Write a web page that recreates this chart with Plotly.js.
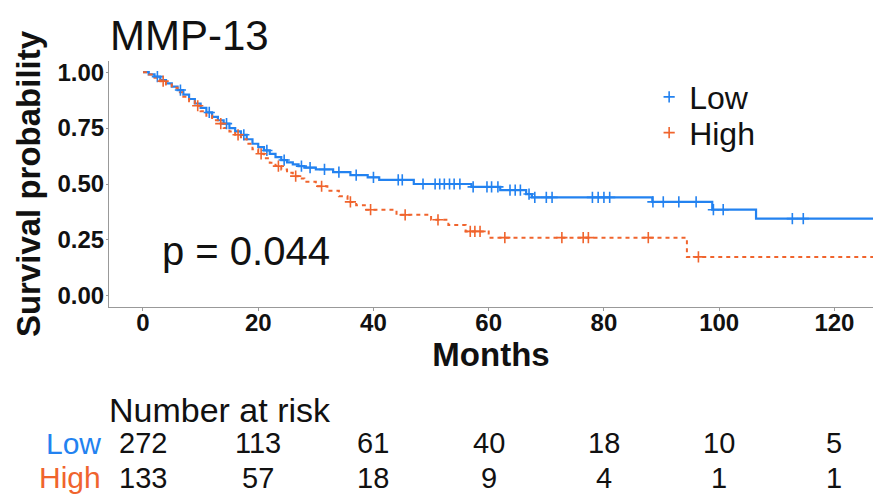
<!DOCTYPE html>
<html>
<head>
<meta charset="utf-8">
<script src="https://cdn.plot.ly/plotly-3.0.1.min.js"></script>
<style>html,body{margin:0;padding:0;background:#fff;}#chart{width:873px;height:498px;}</style>
</head>
<body>
<div id="chart"></div>
<script>
// ---- Data ----
const groups = ["Low", "High"];

const lowTimes = [0, 1, 2, 3, 4, 5, 6, 7, 8, 9, 10, 11, 12, 13, 14, 15, 16, 17, 18, 19, 20, 21, 22, 23, 24, 25, 26, 27, 28, 30, 33, 36, 39, 41, 47, 57, 62, 66.5, 67.5, 88.4, 98.8, 106.4, 127];
const lowSurv  = [1.0, 0.99, 0.98, 0.965, 0.95, 0.935, 0.92, 0.90, 0.88, 0.86, 0.84, 0.82, 0.80, 0.785, 0.77, 0.75, 0.735, 0.72, 0.70, 0.68, 0.665, 0.65, 0.635, 0.62, 0.607, 0.597, 0.588, 0.58, 0.573, 0.565, 0.553, 0.54, 0.53, 0.518, 0.50, 0.487, 0.473, 0.455, 0.44, 0.42, 0.385, 0.345, 0.345];

const highTimes = [0, 1, 2, 3, 4, 5, 6, 7, 8, 9, 10, 11, 12, 13, 14, 15, 16, 17, 18, 19, 20, 21, 22, 23, 24, 25, 26, 27, 28, 30, 32, 34, 35.5, 37, 38.5, 44, 50, 53, 56, 60, 94.4, 127];
const highSurv  = [1.0, 0.99, 0.975, 0.96, 0.945, 0.93, 0.91, 0.89, 0.87, 0.85, 0.825, 0.805, 0.785, 0.77, 0.75, 0.735, 0.72, 0.70, 0.68, 0.655, 0.635, 0.615, 0.595, 0.58, 0.565, 0.55, 0.535, 0.525, 0.51, 0.49, 0.47, 0.445, 0.42, 0.405, 0.385, 0.362, 0.34, 0.317, 0.288, 0.26, 0.174, 0.174];

const lowCensor  = [2.5, 6.5, 11.5, 14.5, 17.5, 21.5, 24.5, 27.5, 29, 31.5, 34, 37, 40, 44.3, 45, 48.6, 50.7, 51.5, 52.3, 53.2, 54, 55, 57.3, 59.7, 60.5, 61.6, 63.7, 64.6, 65.5, 67, 68, 70, 71, 78, 79, 80, 81, 88.5, 90.3, 93, 96, 99, 100.7, 112.7, 114.6];
const highCensor = [3.5, 9.5, 13.5, 16.5, 20.5, 23.5, 26.5, 31, 36, 39.5, 45.5, 51.2, 56.8, 57.6, 58.5, 62.8, 72.7, 76.4, 77.3, 87.7, 96.4];

const riskTimes = [0, 20, 40, 60, 80, 100, 120];
const lowRisk   = [272, 113, 61, 40, 18, 10, 5];
const highRisk  = [133, 57, 18, 9, 4, 1, 1];

const yTicks = [0, 0.25, 0.5, 0.75, 1.0];
const yTickText = ["0.00", "0.25", "0.50", "0.75", "1.00"];
const xTicks = [0, 20, 40, 60, 80, 100, 120];

// ---- Styles ----
const BLUE = "#2382f0";
const ORANGE = "#f0642d";
const FONT = "Liberation Sans, Arial, Helvetica, sans-serif";

function stepAt(times, surv, t) {
  let v = surv[0];
  for (let i = 0; i < times.length; i++) { if (times[i] <= t) v = surv[i]; }
  return v;
}

const traces = [
  {x: lowTimes, y: lowSurv, type: "scatter", mode: "lines", name: groups[0], showlegend: false,
   line: {color: BLUE, width: 2.2, shape: "hv"}},
  {x: highTimes, y: highSurv, type: "scatter", mode: "lines", name: groups[1], showlegend: false,
   line: {color: ORANGE, width: 2, shape: "hv", dash: "4px,4px"}},
  {x: lowCensor, y: lowCensor.map(t => stepAt(lowTimes, lowSurv, t)), type: "scatter", mode: "markers",
   name: groups[0], legend: "legend",
   marker: {symbol: "cross-thin-open", size: 8, color: BLUE, line: {color: BLUE, width: 1.6}}},
  {x: highCensor, y: highCensor.map(t => stepAt(highTimes, highSurv, t)), type: "scatter", mode: "markers",
   name: groups[1], legend: "legend2",
   marker: {symbol: "cross-thin-open", size: 8, color: ORANGE, line: {color: ORANGE, width: 1.6}}}
];

const annotations = [
  {text: "p = 0.044", xref: "x", yref: "y", x: 3.0, y: 0.20, xanchor: "left", yanchor: "middle",
   showarrow: false, font: {family: FONT, size: 40, color: "#111"}},
  {text: "Number at risk", xref: "paper", yref: "paper", x: -0.002, y: -0.419, xanchor: "left", yanchor: "middle",
   showarrow: false, font: {family: FONT, size: 34, color: "#111"}},
  {text: groups[0], xref: "paper", yref: "paper", x: -0.008, y: -0.553, xanchor: "right", yanchor: "middle",
   showarrow: false, font: {family: FONT, size: 30, color: BLUE}},
  {text: groups[1], xref: "paper", yref: "paper", x: -0.008, y: -0.695, xanchor: "right", yanchor: "middle",
   showarrow: false, font: {family: FONT, size: 30, color: ORANGE}}
];
riskTimes.forEach((t, i) => {
  annotations.push({text: String(lowRisk[i]), xref: "x", yref: "paper", x: t, y: -0.553,
    xanchor: "center", yanchor: "middle", showarrow: false, font: {family: FONT, size: 29, color: "#111"}});
  annotations.push({text: String(highRisk[i]), xref: "x", yref: "paper", x: t, y: -0.695,
    xanchor: "center", yanchor: "middle", showarrow: false, font: {family: FONT, size: 29, color: "#111"}});
});

const legendStyle = {xanchor: "left", yanchor: "top", bgcolor: "rgba(0,0,0,0)",
  font: {family: FONT, size: 32, color: "#111"}, itemwidth: 30};

const layout = {
  width: 873, height: 498,
  margin: {l: 109, r: 0, t: 61, b: 191, pad: 0},
  paper_bgcolor: "#fff", plot_bgcolor: "#fff",
  title: {text: "MMP-13", x: 0.126, xanchor: "left", xref: "container", y: 0.93, yanchor: "middle", yref: "container",
          font: {family: FONT, size: 42, color: "#111"}},
  xaxis: {range: [-5.9, 126.7], tickvals: xTicks, showgrid: false, zeroline: false,
          showline: true, linecolor: "#999", linewidth: 1, ticks: "outside", ticklen: 3, tickcolor: "#999",
          ticklabelstandoff: -9,
          tickfont: {family: FONT, size: 24, color: "#111", weight: "bold"},
          title: {text: "<b>Months</b>", standoff: 2, font: {family: FONT, size: 33, color: "#111"}}},
  yaxis: {range: [-0.05, 1.05], tickvals: yTicks, ticktext: yTickText, showgrid: false, zeroline: false,
          showline: true, linecolor: "#999", linewidth: 1, ticks: "outside", ticklen: 2, tickcolor: "#999",
          ticklabelstandoff: -3,
          tickfont: {family: FONT, size: 24, color: "#111", weight: "bold"},
          title: {text: "<b>Survival probability</b>", standoff: 6, font: {family: FONT, size: 33, color: "#111"}}},
  legend: Object.assign({x: 0.707, y: 0.965}, legendStyle),
  legend2: Object.assign({x: 0.707, y: 0.82}, legendStyle),
  showlegend: true,
  annotations: annotations
};

Plotly.newPlot("chart", traces, layout, {staticPlot: true, displayModeBar: false});
</script>
</body>
</html>
